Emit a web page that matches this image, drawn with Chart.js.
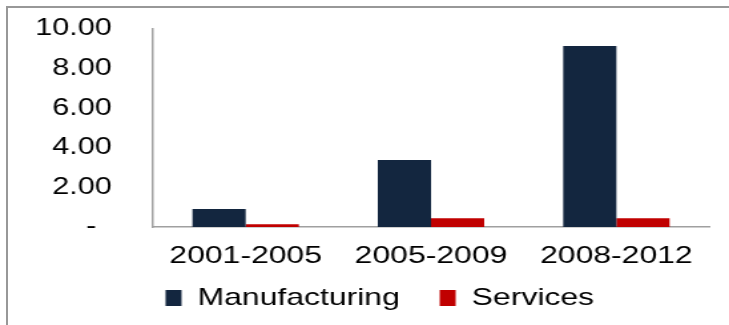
<!DOCTYPE html>
<html>
<head>
<meta charset="utf-8">
<script src="https://cdn.jsdelivr.net/npm/chart.js@4/dist/chart.umd.min.js"></script>
<style>
  html, body { margin: 0; padding: 0; background: #fff; }
  body { width: 729px; height: 325px; position: relative; overflow: hidden; }
  /* chart is laid out narrow and stretched wide */
  .wrap {
    position: absolute; left: 0; top: 0;
    width: 548px; height: 325px;
    transform: scaleX(1.3303); transform-origin: 0 0;
  }
  .frame-top { position: absolute; left: 6px; top: 6px; width: 723px; height: 2px; background: #989898; }
  .frame-left { position: absolute; left: 6px; top: 6px; width: 2px; height: 319px; background: #989898; }
</style>
</head>
<body>
<div class="wrap"><canvas id="growthChart"></canvas></div>
<div class="frame-top"></div>
<div class="frame-left"></div>
<script>
  const periods = ['2001-2005', '2005-2009', '2008-2012'];
  const manufacturing = [0.91, 3.38, 9.14];
  const services = [0.14, 0.44, 0.44];
  const yTicks = [0, 2, 4, 6, 8, 10];

  const FONT = "'Liberation Sans', Arial, sans-serif";
  const AXIS_GREY = '#a0a0a0';

  // nudge the legend box so it sits centred under the bars
  const legendOffset = {
    id: 'legendOffset',
    afterLayout(chart, args, opts) {
      const lg = chart.legend;
      if (!lg) return;
      lg.left += opts.dx; lg.right += opts.dx;
      lg.top += opts.dy; lg.bottom += opts.dy;
    }
  };

  new Chart(document.getElementById('growthChart'), {
    type: 'bar',
    data: {
      labels: periods,
      datasets: [
        { label: 'Manufacturing', data: manufacturing, backgroundColor: '#13263f' },
        { label: 'Services', data: services, backgroundColor: '#c00000' }
      ]
    },
    plugins: [legendOffset],
    options: {
      responsive: true,
      maintainAspectRatio: false,
      animation: false,
      categoryPercentage: 0.574,
      barPercentage: 1.0,
      layout: { padding: { top: 29, right: 15, left: 14, bottom: 0 } },
      plugins: {
        tooltip: { enabled: false },
        legendOffset: { dx: 12, dy: -9 },
        legend: {
          position: 'bottom',
          maxHeight: 60,
          labels: {
            boxWidth: 12,
            boxHeight: 16,
            padding: 30,
            color: '#000',
            font: { family: FONT, size: 24 }
          }
        }
      },
      scales: {
        x: {
          grid: { display: false },
          border: { display: true, color: AXIS_GREY, width: 1.5 },
          ticks: { padding: 7, color: '#000', font: { family: FONT, size: 24 } },
          afterFit: (scale) => { scale.height = 38; }
        },
        y: {
          min: 0,
          max: 10,
          grid: { display: false, drawTicks: true, tickLength: 31 },
          border: { display: true, color: AXIS_GREY, width: 1.5 },
          afterBuildTicks: (scale) => { scale.ticks = yTicks.map(v => ({ value: v })); },
          ticks: {
            padding: 0,
            color: '#000',
            font: { family: FONT, size: 23 },
            callback: (v) => v === 0 ? '-\u2002' : v.toFixed(2)
          },
          afterFit: (scale) => { scale.width = 101; }
        }
      }
    }
  });
</script>
</body>
</html>
